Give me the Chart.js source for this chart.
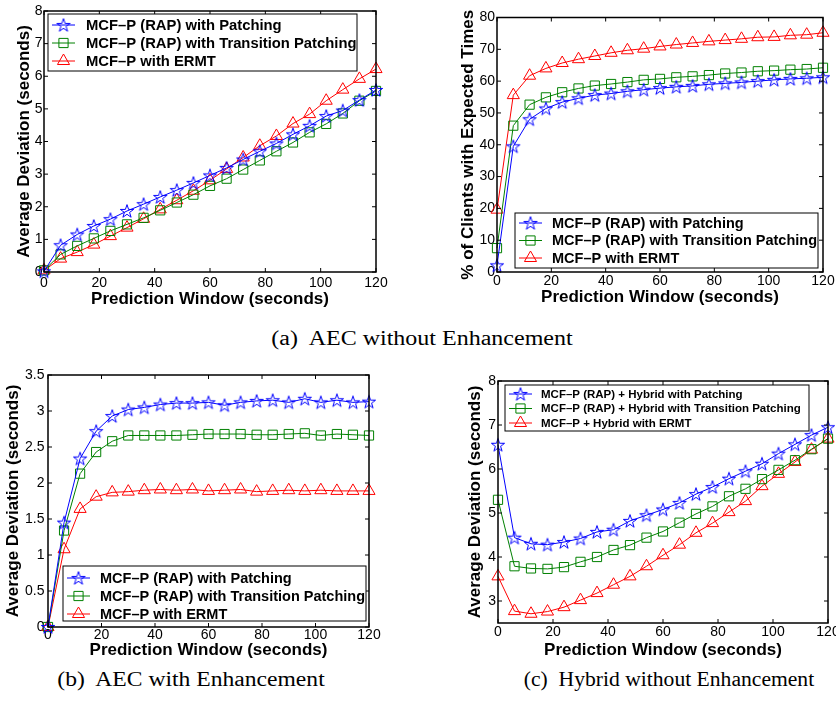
<!DOCTYPE html>
<html>
<head>
<meta charset="utf-8">
<script src="https://cdn.jsdelivr.net/npm/chart.js@4.4.0/dist/chart.umd.min.js"></script>
<style>
body { margin: 0; background: #fff; width: 836px; height: 709px; position: relative; overflow: hidden; }
canvas { position: absolute; }
.cap { position: absolute; font-family: "Liberation Serif", "Times New Roman", serif; font-size: 20px; line-height: 20px; white-space: nowrap; color: #000; }
</style>
</head>
<body>
<canvas id="aecDev" width="400" height="314" style="left:0;top:0"></canvas>
<canvas id="aecPct" width="416" height="314" style="left:420px;top:0"></canvas>
<canvas id="enhDev" width="400" height="303" style="left:0;top:360px"></canvas>
<canvas id="hybDev" width="416" height="302" style="left:420px;top:360px"></canvas>
<div class="cap" style="left:422px;top:328px;transform:translateX(-50%) scaleX(1.2)">(a)&nbsp; AEC without Enhancement</div>
<div class="cap" style="left:191px;top:669px;transform:translateX(-50%) scaleX(1.18)">(b)&nbsp; AEC with Enhancement</div>
<div class="cap" style="left:669px;top:669px;transform:translateX(-50%) scaleX(1.08)">(c)&nbsp; Hybrid without Enhancement</div>
<script>
var windowSecs = [0, 6, 12, 18, 24, 30, 36, 42, 48, 54, 60, 66, 72, 78, 84, 90, 96, 102, 108, 114, 120];
var xTicks = [0, 20, 40, 60, 80, 100, 120];

// (a) average deviation, no enhancement
var devPatching   = [0.02, 0.82, 1.15, 1.41, 1.62, 1.87, 2.08, 2.30, 2.51, 2.73, 2.96, 3.19, 3.45, 3.70, 3.94, 4.22, 4.48, 4.78, 4.95, 5.27, 5.58];
var devTransition = [0.05, 0.54, 0.80, 1.03, 1.26, 1.46, 1.66, 1.89, 2.13, 2.37, 2.64, 2.86, 3.14, 3.42, 3.70, 3.97, 4.28, 4.54, 4.86, 5.25, 5.55];
var devErmt       = [0.05, 0.41, 0.61, 0.84, 1.10, 1.36, 1.63, 1.92, 2.20, 2.49, 2.81, 3.16, 3.51, 3.87, 4.17, 4.55, 4.84, 5.25, 5.59, 5.92, 6.22];
var devTicks = [0, 1, 2, 3, 4, 5, 6, 7, 8];

// (a) percentage of clients served at expected times
var pctPatching   = [2.1, 39.5, 48.0, 51.4, 53.4, 54.6, 55.6, 56.1, 56.8, 57.3, 57.8, 58.2, 58.5, 59.0, 59.3, 59.6, 60.0, 60.4, 60.7, 60.9, 61.2];
var pctTransition = [7.5, 46.0, 52.6, 54.9, 56.5, 57.7, 58.6, 59.1, 59.7, 60.4, 60.7, 61.2, 61.5, 61.9, 62.4, 62.7, 63.1, 63.3, 63.6, 63.8, 64.2];
var pctErmt       = [19.6, 55.6, 61.7, 64.0, 65.7, 66.9, 67.9, 68.9, 69.7, 70.2, 70.9, 71.5, 72.0, 72.5, 72.9, 73.3, 73.8, 73.9, 74.4, 74.6, 75.2];
var pctTicks = [0, 10, 20, 30, 40, 50, 60, 70, 80];

// (b) average deviation with enhancement
var enhPatching   = [0, 1.45, 2.34, 2.72, 2.93, 3.02, 3.05, 3.09, 3.11, 3.11, 3.12, 3.08, 3.12, 3.14, 3.15, 3.12, 3.17, 3.12, 3.15, 3.12, 3.13];
var enhTransition = [0, 1.34, 2.13, 2.43, 2.58, 2.66, 2.66, 2.66, 2.66, 2.67, 2.68, 2.68, 2.68, 2.67, 2.67, 2.68, 2.69, 2.66, 2.68, 2.67, 2.66];
var enhErmt       = [0, 1.08, 1.64, 1.81, 1.87, 1.88, 1.90, 1.91, 1.90, 1.91, 1.89, 1.90, 1.91, 1.88, 1.89, 1.90, 1.89, 1.90, 1.89, 1.89, 1.89];
var enhTicks = [0, 0.5, 1, 1.5, 2, 2.5, 3, 3.5];

// (c) hybrid, no enhancement
var hybPatching   = [6.55, 4.44, 4.30, 4.28, 4.34, 4.42, 4.57, 4.62, 4.82, 4.95, 5.08, 5.23, 5.43, 5.59, 5.78, 5.95, 6.12, 6.35, 6.56, 6.77, 6.95];
var hybTransition = [5.30, 3.79, 3.74, 3.73, 3.77, 3.89, 4.00, 4.16, 4.27, 4.44, 4.58, 4.78, 4.98, 5.15, 5.38, 5.55, 5.77, 5.98, 6.20, 6.45, 6.69];
var hybErmt       = [3.56, 2.77, 2.71, 2.76, 2.86, 3.02, 3.18, 3.37, 3.56, 3.79, 4.04, 4.28, 4.55, 4.77, 5.02, 5.27, 5.61, 5.89, 6.16, 6.44, 6.69];
var hybTicks = [3, 4, 5, 6, 7, 8];

var schemeNames = ['MCF\u2013P (RAP) with Patching', 'MCF\u2013P (RAP) with Transition Patching', 'MCF\u2013P with ERMT'];
var hybridNames = ['MCF\u2013P (RAP) + Hybrid with Patching', 'MCF\u2013P (RAP) + Hybrid with Transition Patching', 'MCF\u2013P + Hybrid with ERMT'];

var FONT = '"Liberation Sans", Arial, Helvetica, sans-serif';
var lineColors = ['#0000ff', '#008000', '#ff0000'];

// hollow five-point star, like matlab's pentagram marker
function pentagram(color) {
    var c = document.createElement('canvas');
    c.width = 16; c.height = 16;
    var g = c.getContext('2d');
    g.strokeStyle = color;
    g.lineWidth = 1;
    g.beginPath();
    for (var i = 0; i < 10; i++) {
        var r = i % 2 ? 2.7 : 7;
        var ang = -Math.PI / 2 + i * Math.PI / 5;
        var px = 8 + r * Math.cos(ang), py = 8.6 + r * Math.sin(ang);
        if (i) g.lineTo(px, py); else g.moveTo(px, py);
    }
    g.closePath();
    g.stroke();
    return c;
}

var markStyles = [pentagram('#0000ff'), 'rect', 'triangle'];
var markRadii = [7, 6.5, 7];

function drawMark(ctx, style, r, color, x, y) {
    if (typeof style !== 'string') {
        ctx.drawImage(style, x - style.width / 2, y - style.height / 2);
        return;
    }
    ctx.strokeStyle = color;
    ctx.lineWidth = 1;
    ctx.beginPath();
    if (style === 'rect') {
        var s = r * Math.SQRT1_2;
        ctx.rect(x - s, y - s, 2 * s, 2 * s);
    } else {
        for (var i = 0; i < 3; i++) {
            var a = i * 2 * Math.PI / 3;
            var px = x + Math.sin(a) * r, py = y - Math.cos(a) * r;
            if (i) ctx.lineTo(px, py); else ctx.moveTo(px, py);
        }
        ctx.closePath();
    }
    ctx.stroke();
}

// box frame, inward ticks on all four sides, and the boxed legend
var matlabBox = {
    id: 'matlabBox',
    afterDatasetsDraw: function (chart, args, opts) {
        var ctx = chart.ctx, a = chart.chartArea;
        var xs = chart.scales.x, ys = chart.scales.y;
        ctx.save();
        ctx.strokeStyle = '#000';
        ctx.lineWidth = 1;
        ctx.beginPath();
        xs.ticks.forEach(function (t) {
            var px = xs.getPixelForValue(t.value);
            ctx.moveTo(px, a.bottom); ctx.lineTo(px, a.bottom - 4);
            ctx.moveTo(px, a.top); ctx.lineTo(px, a.top + 4);
        });
        ys.ticks.forEach(function (t) {
            var py = ys.getPixelForValue(t.value);
            ctx.moveTo(a.left, py); ctx.lineTo(a.left + 4, py);
            ctx.moveTo(a.right, py); ctx.lineTo(a.right - 4, py);
        });
        ctx.stroke();
        ctx.lineWidth = 1.5;
        ctx.strokeRect(a.left, a.top, a.right - a.left, a.bottom - a.top);

        var bx = a.left + opts.dx, by = a.top + opts.dy;
        ctx.fillStyle = '#fff';
        ctx.fillRect(bx, by, opts.w, opts.h);
        ctx.lineWidth = 1;
        ctx.strokeRect(bx, by, opts.w, opts.h);
        ctx.font = 'bold ' + opts.size + 'px ' + FONT;
        ctx.textBaseline = 'middle';
        ctx.textAlign = 'left';
        chart.data.datasets.forEach(function (ds, i) {
            var ry = by + opts.first + i * opts.gap;
            ctx.strokeStyle = ds.borderColor;
            ctx.lineWidth = 1;
            ctx.beginPath();
            ctx.moveTo(bx + 4, ry); ctx.lineTo(bx + 27, ry);
            ctx.stroke();
            drawMark(ctx, ds.pointStyle, ds.pointRadius, ds.borderColor, bx + 15.5, ry);
            ctx.fillStyle = '#000';
            ctx.fillText(ds.label, bx + opts.text, ry + 0.5);
        });
        ctx.restore();
    }
};

function buildPanel(cfg) {
    var datasets = cfg.series.map(function (vals, i) {
        return {
            label: cfg.names[i],
            data: vals.map(function (v, k) { return { x: windowSecs[k], y: v }; }),
            borderColor: lineColors[i],
            borderWidth: 1,
            pointStyle: markStyles[i],
            pointRadius: markRadii[i],
            pointBorderColor: lineColors[i],
            pointBackgroundColor: 'rgba(0,0,0,0)',
            pointBorderWidth: 1,
            tension: 0,
            clip: false
        };
    });
    return new Chart(document.getElementById(cfg.id), {
        type: 'line',
        data: { datasets: datasets },
        options: {
            responsive: false,
            animation: false,
            events: [],
            layout: { padding: cfg.pad },
            plugins: {
                legend: { display: false },
                tooltip: { enabled: false },
                matlabBox: cfg.legend
            },
            scales: {
                x: {
                    type: 'linear', min: 0, max: 120,
                    afterBuildTicks: function (s) { s.ticks = xTicks.map(function (v) { return { value: v }; }); },
                    afterFit: function (s) { s.height = cfg.xAxisH; s.paddingLeft = 0; s.paddingRight = 0; },
                    grid: { display: false, drawTicks: false },
                    border: { display: false },
                    ticks: {
                        color: '#000', padding: cfg.xTickPad, maxRotation: 0, autoSkip: false,
                        font: { family: FONT, size: 14 },
                        callback: function (v) { return String(v); }
                    },
                    title: {
                        display: true, text: 'Prediction Window (seconds)', color: '#000',
                        font: { family: FONT, size: 17, weight: 'bold' },
                        padding: { top: 0, bottom: cfg.xTitlePad }
                    }
                },
                y: {
                    type: 'linear', min: cfg.yMin, max: cfg.yMax,
                    afterBuildTicks: function (s) { s.ticks = cfg.yTicks.map(function (v) { return { value: v }; }); },
                    afterFit: function (s) { s.width = cfg.yAxisW; s.paddingTop = 0; s.paddingBottom = 0; },
                    grid: { display: false, drawTicks: false },
                    border: { display: false },
                    ticks: {
                        color: '#000', padding: cfg.yTickPad, autoSkip: false,
                        font: { family: FONT, size: 14 },
                        callback: function (v) { return String(v); }
                    },
                    title: {
                        display: true, text: cfg.yTitle, color: '#000',
                        font: { family: FONT, size: 17, weight: 'bold' },
                        padding: { top: cfg.yTitlePad, bottom: 0 }
                    }
                }
            }
        },
        plugins: [matlabBox]
    });
}

buildPanel({
    id: 'aecDev', series: [devPatching, devTransition, devErmt], names: schemeNames,
    yMin: 0, yMax: 8, yTicks: devTicks, yTitle: 'Average Deviation (seconds)',
    pad: { left: 0, right: 24, top: 11, bottom: 0 },
    yAxisW: 44, xAxisH: 42, xTickPad: 3, yTickPad: 1.5, xTitlePad: 4.8, yTitlePad: 13.8,
    legend: { dx: 4, dy: 3, w: 309, h: 57, first: 11, gap: 18, size: 14.8, text: 38 }
});

buildPanel({
    id: 'aecPct', series: [pctPatching, pctTransition, pctErmt], names: schemeNames,
    yMin: 0, yMax: 80, yTicks: pctTicks, yTitle: '% of Clients with Expected Times',
    pad: { left: 0, right: 13, top: 17.5, bottom: 0 },
    yAxisW: 77, xAxisH: 42, xTickPad: 1, yTickPad: 2, xTitlePad: 6.5, yTitlePad: 38,
    legend: { dx: 18, dy: 195.5, w: 303, h: 55, first: 10, gap: 17.5, size: 14.5, text: 37 }
});

buildPanel({
    id: 'enhDev', series: [enhPatching, enhTransition, enhErmt], names: schemeNames,
    yMin: 0, yMax: 3.5, yTicks: enhTicks, yTitle: 'Average Deviation (seconds)',
    pad: { left: 0, right: 31, top: 15, bottom: 0 },
    yAxisW: 48, xAxisH: 36, xTickPad: 0, yTickPad: 3.5, xTitlePad: 2.2, yTitlePad: 3.1,
    legend: { dx: 15, dy: 191, w: 303, h: 55, first: 12, gap: 18, size: 14.5, text: 37 }
});

buildPanel({
    id: 'hybDev', series: [hybPatching, hybTransition, hybErmt], names: hybridNames,
    yMin: 2.5, yMax: 8, yTicks: hybTicks, yTitle: 'Average Deviation (seconds)',
    pad: { left: 0, right: 7, top: 21, bottom: 0 },
    yAxisW: 78, xAxisH: 39, xTickPad: 1, yTickPad: 2, xTitlePad: 1.3, yTitlePad: 44.8,
    legend: { dx: 7, dy: 4, w: 304, h: 46, first: 9, gap: 14.5, size: 11.5, text: 36 }
});
</script>
</body>
</html>
